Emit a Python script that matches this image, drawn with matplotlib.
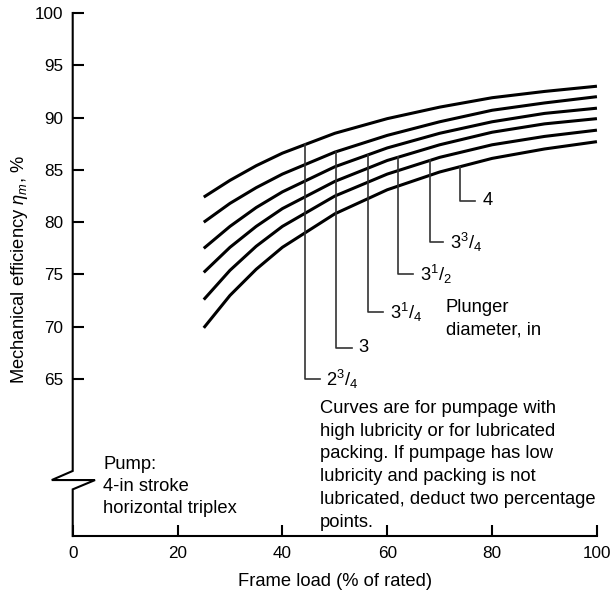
"""Mechanical efficiency vs frame load for a 4-in stroke horizontal triplex pump."""

import numpy as np
import matplotlib
matplotlib.use("Agg")
import matplotlib.pyplot as plt

# frame load, % of rated
frame_load = [25, 30, 35, 40, 50, 60, 70, 80, 90, 100]

# mechanical efficiency, % (one list per plunger diameter)
eff_2_75 = [82.4, 84.0, 85.4, 86.6, 88.5, 89.9, 91.0, 91.9, 92.5, 93.0]
eff_3_00 = [80.0, 81.8, 83.3, 84.6, 86.7, 88.3, 89.6, 90.7, 91.4, 92.0]
eff_3_25 = [77.5, 79.6, 81.4, 82.9, 85.3, 87.1, 88.5, 89.6, 90.4, 90.9]
eff_3_50 = [75.2, 77.6, 79.6, 81.3, 83.9, 85.9, 87.4, 88.6, 89.4, 89.9]
eff_3_75 = [72.6, 75.4, 77.7, 79.6, 82.5, 84.6, 86.2, 87.4, 88.2, 88.8]
eff_4_00 = [69.9, 73.0, 75.5, 77.6, 80.8, 83.1, 84.8, 86.1, 87.0, 87.7]

plunger_whole = ["2", "3", "3", "3", "3", "4"]
plunger_num = ["3", "", "1", "1", "3", ""]
plunger_den = ["4", "", "4", "2", "4", ""]

y_ticks = [65, 70, 75, 80, 85, 90, 95, 100]
x_ticks = [0, 20, 40, 60, 80, 100]

# leader layout: (x of vertical drop, y of elbow, x end of elbow)
LEADERS = [
    (44.4, 65.0, 47.1),
    (50.25, 68.0, 53.2),
    (56.3, 71.4, 59.2),
    (62.1, 75.05, 65.0),
    (68.2, 78.1, 70.7),
    (73.9, 82.05, 76.8),
]

NOTE = (
    "Curves are for pumpage with\n"
    "high lubricity or for lubricated\n"
    "packing. If pumpage has low\n"
    "lubricity and packing is not\n"
    "lubricated, deduct two percentage\n"
    "points."
)

TEXT_SIZE = 13.2


def _label(whole: str, num: str, den: str) -> str:
    if not num:
        return whole
    return whole + r"$^{\mathregular{%s}}$/$_{\mathregular{%s}}$" % (num, den)


def main() -> int:
    plt.rcParams.update(
        {
            "font.family": ["Liberation Sans", "DejaVu Sans"],
            "font.size": TEXT_SIZE,
            "mathtext.fontset": "custom",
            "mathtext.rm": "Liberation Sans",
            "mathtext.it": "Liberation Sans:italic",
        }
    )
    fig = plt.figure(figsize=(6.11, 5.93), dpi=100)
    ax = fig.add_axes([0.119, 0.0961, 0.858, 0.882])
    ax.set_xlim(0, 100)
    ax.set_ylim(50, 100)

    curves = [eff_2_75, eff_3_00, eff_3_25, eff_3_50, eff_3_75, eff_4_00]
    for values in curves:
        ax.plot(frame_load, values, color="black", linewidth=2.2,
                solid_capstyle="butt", clip_on=False)

    for values, (x0, y_elbow, x_end), whole, num, den in zip(
        curves, LEADERS, plunger_whole, plunger_num, plunger_den
    ):
        y_top = np.interp(x0, frame_load, values)
        ax.plot([x0, x0, x_end], [y_top, y_elbow, y_elbow],
                color="#333333", linewidth=1.2)
        ax.text(x_end + 1.3, y_elbow, _label(whole, num, den),
                ha="left", va="center", fontsize=TEXT_SIZE)

    ax.text(71.2, 72.7, "Plunger\ndiameter, in", ha="left", va="top",
            fontsize=TEXT_SIZE, linespacing=1.42)
    ax.text(47.1, 63.0, NOTE, ha="left", va="top", fontsize=TEXT_SIZE,
            linespacing=1.44)
    ax.text(5.8, 57.65, "Pump:\n4-in stroke\nhorizontal triplex",
            ha="left", va="top", fontsize=TEXT_SIZE, linespacing=1.38)

    # axes frame: bottom spine kept, left spine drawn with a break
    for side in ("top", "right", "left"):
        ax.spines[side].set_visible(False)
    ax.spines["bottom"].set_linewidth(1.5)
    ax.plot([0, 0, -4.0, 4.26, 0, 0],
            [100, 56.22, 55.35, 55.35, 54.46, 50],
            color="black", linewidth=1.5, clip_on=False,
            solid_joinstyle="miter")

    ax.set_xticks(x_ticks)
    ax.set_yticks(y_ticks)
    ax.tick_params(direction="in", length=8, width=1.5, labelsize=12.3)
    ax.tick_params(axis="x", pad=7)
    ax.tick_params(axis="y", pad=7)

    ax.set_xlabel("Frame load (% of rated)", fontsize=TEXT_SIZE)
    ax.xaxis.set_label_coords(0.5, -0.07)
    ax.set_ylabel(r"Mechanical efficiency $\eta_m$, %", fontsize=TEXT_SIZE)
    ax.yaxis.set_label_coords(-0.081, 0.509)

    fig.savefig("out.png", dpi=100)
    plt.close(fig)
    return 0


if __name__ == "__main__":
    raise SystemExit(main())
